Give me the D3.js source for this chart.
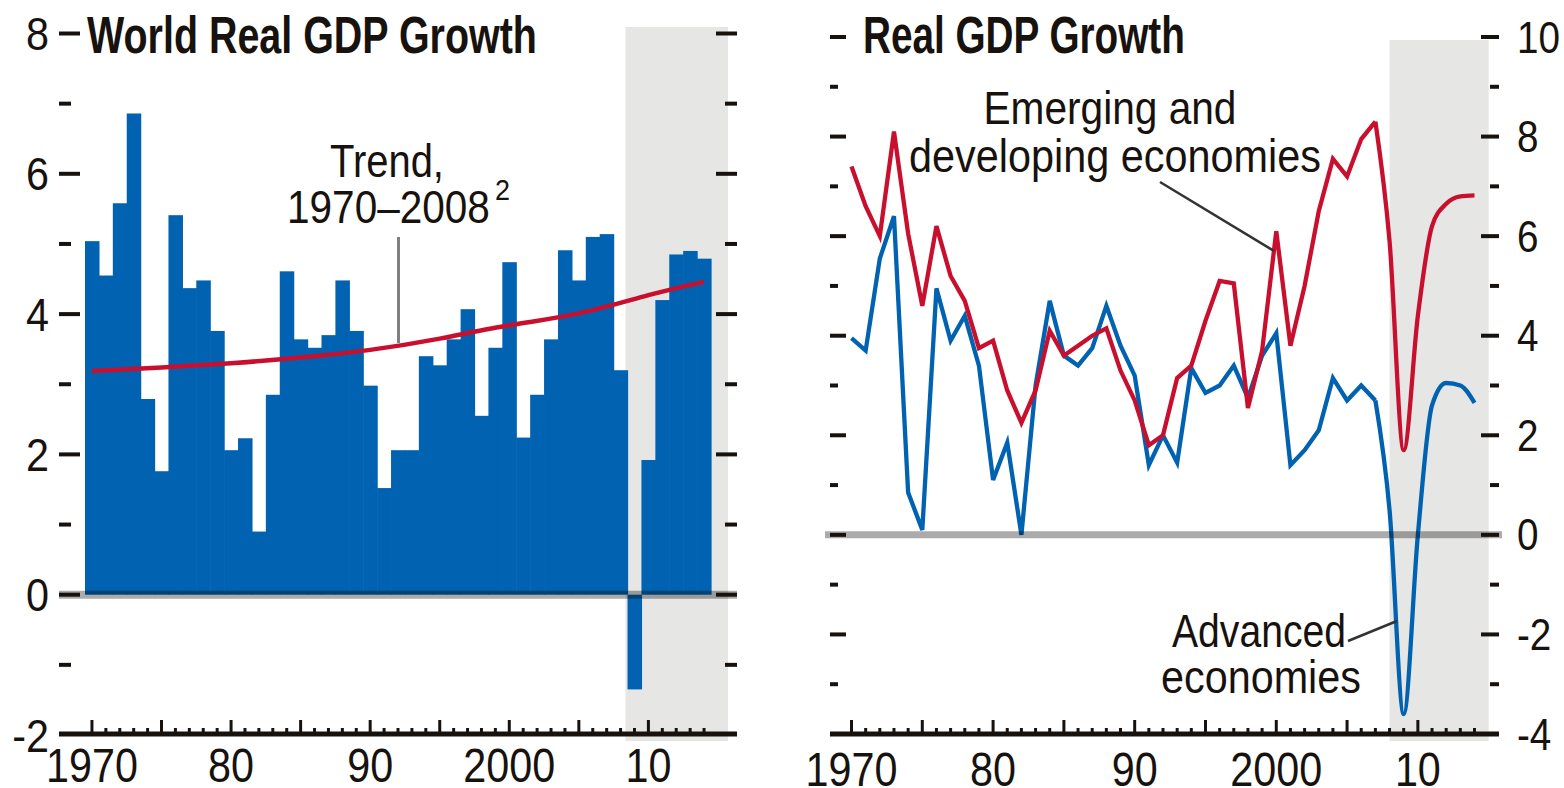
<!DOCTYPE html>
<html>
<head>
<meta charset="utf-8">
<script src="https://cdnjs.cloudflare.com/ajax/libs/d3/7.8.5/d3.min.js"></script>
<style>
  html, body { margin: 0; padding: 0; background: #fff; }
  svg text { font-family: "Liberation Sans Narrow", "Arial Narrow", "Liberation Sans", Arial, sans-serif; fill: #17120e; }
</style>
</head>
<body>
<svg id="chart" width="1564" height="788"></svg>
<script>
var years = [1970, 1971, 1972, 1973, 1974, 1975, 1976, 1977, 1978, 1979,
             1980, 1981, 1982, 1983, 1984, 1985, 1986, 1987, 1988, 1989,
             1990, 1991, 1992, 1993, 1994, 1995, 1996, 1997, 1998, 1999,
             2000, 2001, 2002, 2003, 2004, 2005, 2006, 2007, 2008, 2009,
             2010, 2011, 2012, 2013, 2014];

// world real GDP growth, percent (bars, left panel)
var worldGrowth = [5.04, 4.55, 5.58, 6.86, 2.79, 1.76, 5.41, 4.37, 4.48, 3.76,
                   2.06, 2.23, 0.90, 2.85, 4.61, 3.64, 3.52, 3.70, 4.48, 3.76,
                   2.98, 1.52, 2.06, 2.06, 3.40, 3.27, 3.64, 4.07, 2.55, 3.52,
                   4.74, 2.24, 2.85, 3.64, 4.91, 4.48, 5.10, 5.14, 3.20, -1.35,
                   1.92, 4.20, 4.85, 4.90, 4.79];

// trend 1970-2008, read every five years
var trendYears = [1970, 1975, 1980, 1985, 1990, 1995, 2000, 2005, 2010, 2014];
var trendValues = [3.19, 3.24, 3.30, 3.38, 3.49, 3.65, 3.84, 4.01, 4.27, 4.46];

// right panel series
var emerging = [7.40, 6.60, 6.00, 8.10, 6.05, 4.60, 6.20, 5.20, 4.70, 3.75,
                3.90, 2.90, 2.25, 2.90, 4.10, 3.60, 3.80, 4.00, 4.15, 3.30,
                2.70, 1.80, 2.00, 3.15, 3.40, 4.30, 5.10, 5.05, 2.55, 3.70,
                6.10, 3.80, 5.00, 6.50, 7.55, 7.20, 7.95, 8.30, 5.90, 1.70,
                4.40, 6.20, 6.65, 6.80, 6.82];
var advanced = [3.95, 3.70, 5.55, 6.40, 0.85, 0.10, 4.95, 3.90, 4.40, 3.40,
                1.10, 1.85, 0.00, 3.00, 4.70, 3.60, 3.40, 3.75, 4.60, 3.80,
                3.20, 1.40, 2.00, 1.45, 3.35, 2.85, 3.00, 3.40, 2.75, 3.60,
                4.05, 1.40, 1.70, 2.10, 3.15, 2.70, 3.00, 2.70, 0.50, -3.60,
                0.00, 2.60, 3.05, 3.00, 2.65];

var projectionStart = 2008;
var smoothFrom = 2007;

var leftTickLabels = [-2, 0, 2, 4, 6, 8];
var rightTickLabels = [-4, -2, 0, 2, 4, 6, 8, 10];
var xLabelYears = [1970, 1980, 1990, 2000, 2010];
var xLabelText = ["1970", "80", "90", "2000", "10"];

var INK = "#17120e";
var BLUE = "#0062b0";
var RED = "#c8102e";
var SHADE = "#e6e6e4";

var svg = d3.select("#chart");

function measure(str, size, bold) {
    var t = svg.append("text")
        .attr("font-size", size)
        .attr("font-weight", bold ? "bold" : "normal")
        .text(str);
    var w = t.node().getComputedTextLength();
    t.remove();
    return w;
}

// text helper: squeezes the glyphs horizontally to the width seen in the picture
function putText(x, y, str, size, opts) {
    opts = opts || {};
    var g = svg.append("g");
    var t = g.append("text")
        .attr("font-size", size)
        .attr("font-weight", opts.bold ? "bold" : "normal")
        .attr("text-anchor", opts.anchor || "start")
        .text(str);
    var k = 1;
    if (opts.width) k = opts.width / t.node().getComputedTextLength();
    if (opts.digit) k = opts.digit / measure("0", size, opts.bold);
    g.attr("transform", "translate(" + x + "," + y + ") scale(" + k + ",1)");
    return g;
}

function hline(x1, x2, y, w, color) {
    return svg.append("line")
        .attr("x1", x1).attr("x2", x2).attr("y1", y).attr("y2", y)
        .attr("stroke", color || INK).attr("stroke-width", w);
}

function vline(x, y1, y2, w, color) {
    return svg.append("line")
        .attr("x1", x).attr("x2", x).attr("y1", y1).attr("y2", y2)
        .attr("stroke", color || INK).attr("stroke-width", w);
}

/* ---------------- left panel: world real GDP growth ---------------- */
var L = { x0: 59, x1: 737, axisY: 734 };

var xL = d3.scaleBand().domain(years).range([85, 711]).padding(0);
var xLc = function (yr) { return xL(yr) + xL.bandwidth() / 2; };
var yL = d3.scaleLinear().domain([-2, 8]).range([735, 33.5]);

svg.append("rect")
    .attr("x", xL(projectionStart + 1) - 2)
    .attr("y", 27)
    .attr("width", 728 - (xL(projectionStart + 1) - 2))
    .attr("height", 741 - 27)
    .attr("fill", SHADE);

svg.append("g").selectAll("rect")
    .data(years)
    .enter().append("rect")
    .attr("x", function (d) { return xL(d); })
    .attr("width", xL.bandwidth() + 0.6)
    .attr("y", function (d, i) { return yL(Math.max(0, worldGrowth[i])); })
    .attr("height", function (d, i) { return Math.abs(yL(worldGrowth[i]) - yL(0)); })
    .attr("fill", BLUE);

hline(L.x0, L.x1, yL(0), 8, "#000").attr("stroke-opacity", 0.33);

var trendLine = d3.line()
    .x(function (d, i) { return xLc(trendYears[i]); })
    .y(function (d) { return yL(d); })
    .curve(d3.curveNatural);

svg.append("path")
    .attr("d", trendLine(trendValues))
    .attr("fill", "none")
    .attr("stroke", RED)
    .attr("stroke-width", 4.5);

// leader to the trend line
vline(398.5, 237, 343, 3, "#808080");

// y ticks, both sides
d3.range(-1, 9).forEach(function (v) {
    var major = v % 2 === 0;
    hline(L.x0, major ? 80 : 71, yL(v), 4);
    hline(major ? 716 : 725, L.x1, yL(v), 4);
});

hline(L.x0, L.x1, L.axisY, 5);
years.forEach(function (yr) {
    vline(xLc(yr), L.axisY, (yr % 5 === 0) ? 720 : 728, 3);
});

leftTickLabels.forEach(function (v) {
    putText(49, yL(v) + 16.5, String(v), 46, { anchor: "end", digit: 23 });
});
xLabelYears.forEach(function (yr, i) {
    putText(xLc(yr), 782, xLabelText[i], 48, { anchor: "middle", digit: 23 });
});

putText(87, 53, "World Real GDP Growth", 52, { bold: true, width: 450 });
putText(330, 177, "Trend,", 47, { width: 114 });
putText(287, 223, "1970\u20132008", 47, { width: 203 });
putText(495, 200, "2", 30, { digit: 15 });

/* ---------------- right panel: real GDP growth by group ---------------- */
var R = { x0: 830, x1: 1499, axisY: 734 };

var xR = d3.scaleLinear().domain([1970, 2014]).range([851.5, 1474.5]);
var yR = d3.scaleLinear().domain([-4, 10]).range([734, 37]);

svg.append("rect")
    .attr("x", xR(projectionStart))
    .attr("y", 40)
    .attr("width", xR(2015) - xR(projectionStart))
    .attr("height", 741 - 40)
    .attr("fill", SHADE);

function drawSeries(values, color) {
    var pts = years.map(function (yr, i) { return [yr, values[i]]; });
    var past = pts.filter(function (p) { return p[0] <= smoothFrom; });
    var ahead = pts.filter(function (p) { return p[0] >= smoothFrom; });
    var lin = d3.line()
        .x(function (p) { return xR(p[0]); })
        .y(function (p) { return yR(p[1]); });
    var smooth = d3.line()
        .x(function (p) { return xR(p[0]); })
        .y(function (p) { return yR(p[1]); })
        .curve(d3.curveMonotoneX);
    svg.append("path").attr("d", lin(past))
        .attr("fill", "none").attr("stroke", color).attr("stroke-width", 4.3);
    svg.append("path").attr("d", smooth(ahead))
        .attr("fill", "none").attr("stroke", color).attr("stroke-width", 4.3);
}

drawSeries(advanced, BLUE);
drawSeries(emerging, RED);

hline(825, 1502, yR(0), 7, "#000").attr("stroke-opacity", 0.33);

d3.range(-3, 11).forEach(function (v) {
    var major = v % 2 === 0;
    hline(R.x0, major ? 846 : 838, yR(v), 4);
    hline(major ? 1481 : 1490, R.x1, yR(v), 4);
});

hline(R.x0, R.x1, R.axisY, 5);
years.forEach(function (yr) {
    vline(xR(yr), R.axisY, (yr % 5 === 0) ? 720 : 728, 3);
});

rightTickLabels.forEach(function (v) {
    putText(1517, yR(v) + 15.5, String(v), 44, { digit: 21.5 });
});
xLabelYears.forEach(function (yr, i) {
    putText(xR(yr), 786, xLabelText[i], 48, { anchor: "middle", digit: 23 });
});

putText(863, 53, "Real GDP Growth", 52, { bold: true, width: 322 });

putText(983.5, 124, "Emerging and", 46, { width: 253 });
putText(909, 172, "developing economies", 46, { width: 412 });
putText(1172, 647, "Advanced", 46, { width: 174 });
putText(1161, 693, "economies", 46, { width: 200 });

svg.append("line")
    .attr("x1", 1160).attr("y1", 182).attr("x2", 1274).attr("y2", 251)
    .attr("stroke", "#333").attr("stroke-width", 2.5);
svg.append("line")
    .attr("x1", 1348).attr("y1", 641).attr("x2", 1397).attr("y2", 621)
    .attr("stroke", "#333").attr("stroke-width", 2.5);
</script>
</body>
</html>
